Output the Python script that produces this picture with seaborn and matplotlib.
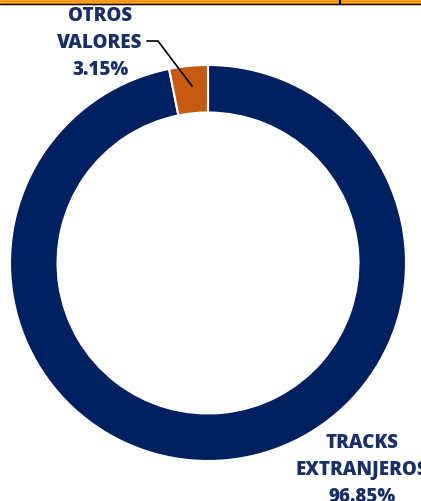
import matplotlib
matplotlib.use("Agg")
import matplotlib.pyplot as plt
import seaborn as sns
from matplotlib.patches import Rectangle

# data
labels = ["TRACKS\nEXTRANJEROS\n96.85%", "OTROS\nVALORES\n3.15%"]
values = [96.85, 3.15]
colors = ["#002060", "#C55A11"]

sns.set_theme(style="white")
plt.rcParams['font.family'] = ['Open Sans', 'DejaVu Sans']

W, H = 421, 502
fig = plt.figure(figsize=(W / 100, H / 100), dpi=100)
ax = fig.add_axes([0, 0, 1, 1])

cx, cy, r = 208, H - 264, 198
ax.pie(values, colors=colors, startangle=90, counterclock=False,
       radius=r, center=(cx, cy), frame=False,
       wedgeprops=dict(width=r * 0.24, edgecolor="white", linewidth=1.5))

ax.set_xlim(0, W)
ax.set_ylim(0, H)
ax.set_aspect("equal")
ax.axis("off")

# cropped table row at the top
ax.add_patch(Rectangle((0, H - 5), W, 5, color="#F79A1E", zorder=5, clip_on=False))
ax.plot([0, W], [H - 5, H - 5], color="black", lw=1, zorder=6)
ax.plot([340, 340], [H - 5, H], color="black", lw=1.5, zorder=6)

txt = dict(ha="center", va="center", color="#1A2F66", fontsize=13.5, fontweight="heavy",
           linespacing=1.45)
ax.text(100, H - 43, labels[1], **txt)
ax.text(362, H - 470, labels[0], **txt, clip_on=False)

# leader line
ax.plot([147, 158, 192], [H - 42, H - 42, H - 87], color="black", lw=1.2, zorder=4)

fig.savefig("out.png", dpi=100)
